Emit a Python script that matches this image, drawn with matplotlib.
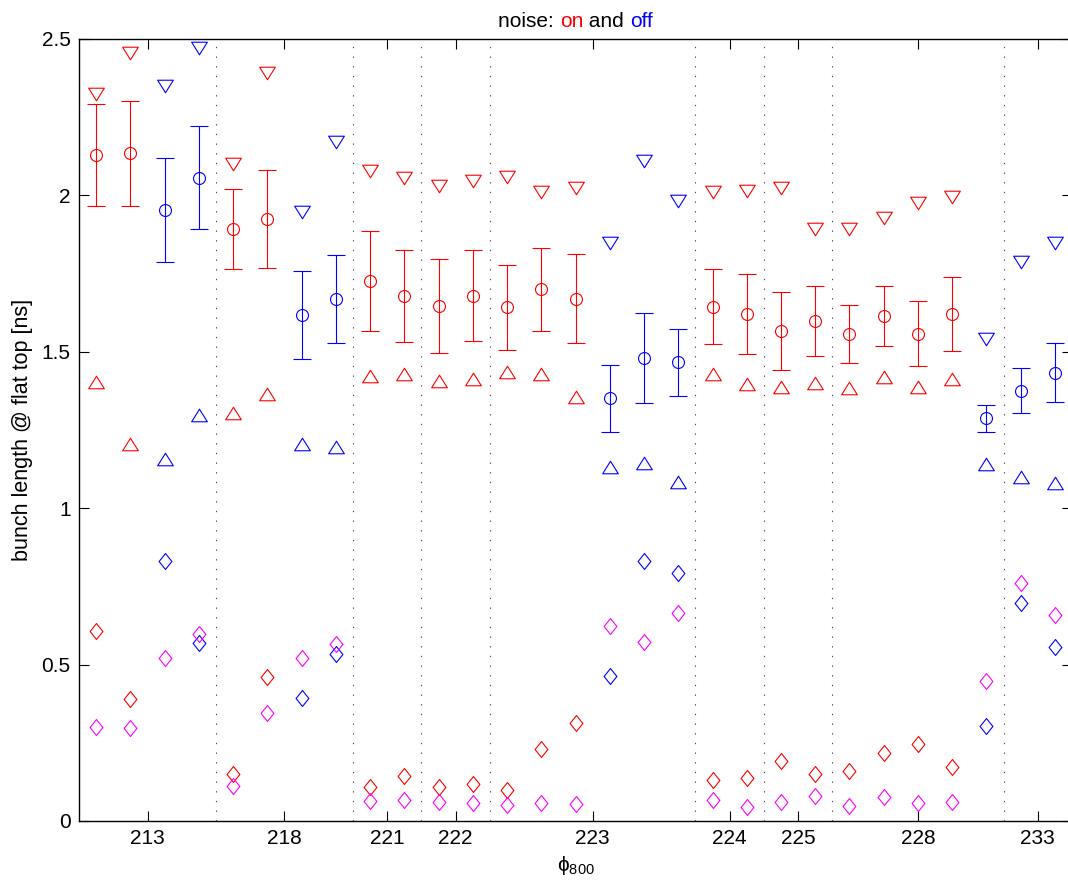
import numpy as np
import matplotlib
matplotlib.use("Agg")
import matplotlib.pyplot as plt
from matplotlib.path import Path
from matplotlib.offsetbox import TextArea, HPacker, AnchoredOffsetbox

plt.rcParams["font.family"] = ["Liberation Sans", "DejaVu Sans"]
plt.rcParams["mathtext.fontset"] = "custom"
plt.rcParams["mathtext.rm"] = "Liberation Sans"
plt.rcParams["mathtext.it"] = "Liberation Sans:italic"

# phase settings (phi_800) and how many shots were taken at each
phases = ["213", "218", "221", "222", "223", "224", "225", "228", "233"]
shots_per_phase = [4, 4, 2, 2, 6, 2, 2, 5, 2]

# 1 = noise on, 0 = noise off
noise_on = [1, 1, 0, 0, 1, 1, 0, 0, 1, 1, 1, 1, 1, 1, 1, 0, 0, 0,
            1, 1, 1, 1, 1, 1, 1, 1, 0, 0, 0]

# bunch length statistics [ns]
mean_len = [2.129, 2.134, 1.954, 2.056, 1.893, 1.925, 1.618, 1.668, 1.726, 1.678,
            1.647, 1.679, 1.642, 1.700, 1.670, 1.351, 1.479, 1.466, 1.644, 1.622,
            1.567, 1.598, 1.558, 1.615, 1.558, 1.620, 1.287, 1.376, 1.433]
std_len = [0.162, 0.167, 0.166, 0.165, 0.127, 0.157, 0.140, 0.140, 0.159, 0.148,
           0.151, 0.146, 0.135, 0.133, 0.141, 0.107, 0.144, 0.108, 0.120, 0.128,
           0.124, 0.113, 0.093, 0.096, 0.105, 0.119, 0.043, 0.072, 0.095]
max_len = [2.324, 2.454, 2.351, 2.470, 2.099, 2.390, 1.948, 2.170, 2.078, 2.057,
           2.031, 2.047, 2.059, 2.012, 2.023, 1.849, 2.110, 1.983, 2.010, 2.015,
           2.023, 1.894, 1.892, 1.927, 1.976, 1.994, 1.540, 1.786, 1.848]
min_len = [1.404, 1.205, 1.157, 1.298, 1.303, 1.364, 1.205, 1.195, 1.424, 1.429,
           1.408, 1.412, 1.434, 1.429, 1.355, 1.133, 1.144, 1.083, 1.429, 1.396,
           1.386, 1.401, 1.385, 1.418, 1.388, 1.413, 1.141, 1.099, 1.082]
spread_a = [0.607, 0.389, 0.832, 0.570, 0.150, 0.459, 0.394, 0.533, 0.110, 0.144,
            0.110, 0.118, 0.099, 0.230, 0.314, 0.465, 0.831, 0.792, 0.131, 0.138,
            0.193, 0.150, 0.160, 0.216, 0.246, 0.174, 0.304, 0.698, 0.557]
spread_b = [0.301, 0.298, 0.520, 0.597, 0.113, 0.344, 0.520, 0.566, 0.065, 0.067,
            0.060, 0.057, 0.051, 0.057, 0.053, 0.624, 0.573, 0.664, 0.067, 0.046,
            0.062, 0.080, 0.048, 0.075, 0.057, 0.060, 0.448, 0.762, 0.659]

FS = 15
LW = 0.8

# matlab-ish marker shapes
tri_down = Path([(-1, 0.8), (1, 0.8), (0, -0.8), (-1, 0.8)], closed=True)
tri_up = Path([(-1, -0.8), (1, -0.8), (0, 0.8), (-1, -0.8)], closed=True)
diamond = Path([(0, 1), (0.8, 0), (0, -1), (-0.8, 0), (0, 1)], closed=True)


def main():
    n = len(mean_len)
    x = np.arange(1, n + 1)
    edges = np.cumsum(shots_per_phase)
    starts = edges - np.array(shots_per_phase)
    centers = (starts + edges) / 2 + 0.5

    fig = plt.figure(figsize=(10.68, 8.88), dpi=100)
    ax = fig.add_axes([0.074, 0.0755, 0.9298, 0.8806])

    for xb in edges[:-1] + 0.5:
        ax.axvline(xb, color="0.3", lw=LW, linestyle=(0, (1.2, 7.5)), zorder=1)

    for i in range(n):
        c = "red" if noise_on[i] else "blue"
        ax.errorbar(x[i], mean_len[i], yerr=std_len[i], fmt="o", color=c,
                    mfc="none", mec=c, ms=8.6, mew=LW, elinewidth=LW,
                    capsize=6.2, capthick=LW, zorder=3)
        ax.plot(x[i], max_len[i], marker=tri_down, ms=11.3, mfc="none",
                mec=c, mew=LW, ls="none", zorder=3)
        ax.plot(x[i], min_len[i], marker=tri_up, ms=11.3, mfc="none",
                mec=c, mew=LW, ls="none", zorder=3)
        ax.plot(x[i], spread_a[i], marker=diamond, ms=11.5, mfc="none",
                mec=c, mew=LW, ls="none", zorder=3)
    ax.plot(x, spread_b, marker=diamond, ms=11.5, mfc="none", mec="magenta",
            mew=LW, ls="none", zorder=4)

    ax.set_xlim(0.5, n + 0.5)
    ax.set_ylim(0, 2.5)
    ax.set_xticks(centers)
    ax.set_xticklabels(phases)
    ax.set_yticks([0, 0.5, 1, 1.5, 2, 2.5])
    ax.set_yticklabels(["0", "0.5", "1", "1.5", "2", "2.5"])
    ax.tick_params(direction="in", length=7, width=LW, top=True, right=True,
                   labelsize=FS, pad=6)
    for s in ax.spines.values():
        s.set_linewidth(1.0)

    ax.set_ylabel("bunch length @ flat top [ns]", fontsize=FS + 0.5, labelpad=6)
    ax.set_xlabel("ϕ$_{800}$", fontsize=FS, labelpad=4)

    parts = [TextArea("noise: ", textprops=dict(color="black", fontsize=FS)),
             TextArea("on", textprops=dict(color="red", fontsize=FS)),
             TextArea(" and ", textprops=dict(color="black", fontsize=FS)),
             TextArea("off", textprops=dict(color="blue", fontsize=FS))]
    title = HPacker(children=parts, align="baseline", pad=0, sep=0)
    box = AnchoredOffsetbox(loc="lower center", child=title, frameon=False,
                            bbox_to_anchor=(0.5, 1.0), bbox_transform=ax.transAxes,
                            pad=0, borderpad=0.6)
    ax.add_artist(box)

    fig.savefig("out.png", dpi=100)


if __name__ == "__main__":
    main()
